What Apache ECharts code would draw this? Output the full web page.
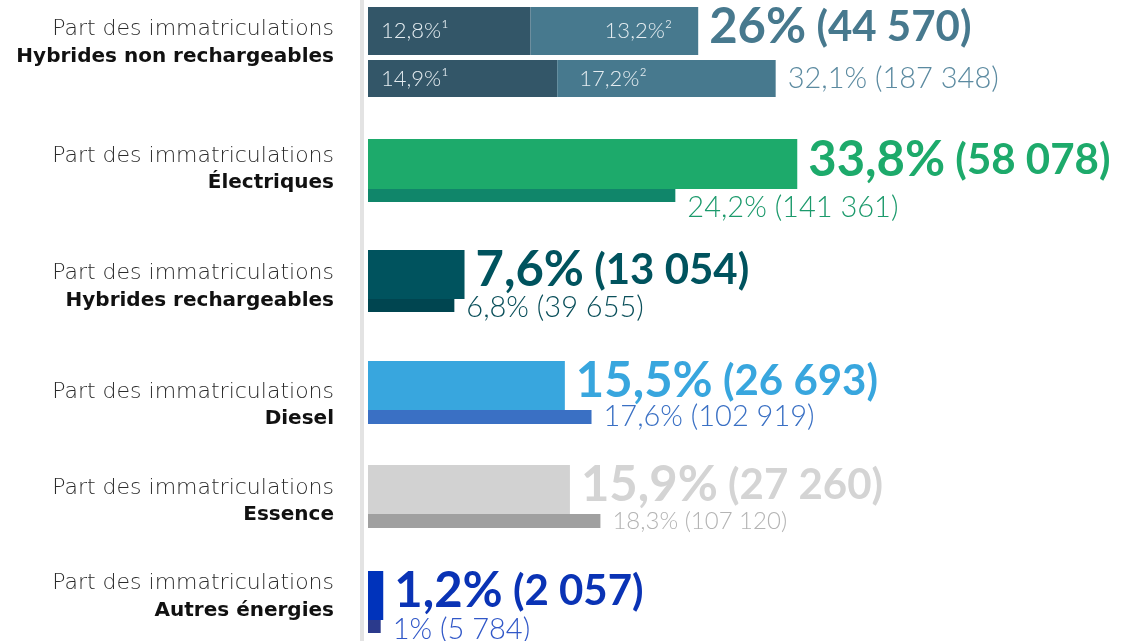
<!DOCTYPE html>
<html>
<head>
<meta charset="utf-8">
<script src="https://cdn.jsdelivr.net/npm/echarts@6/dist/echarts.min.js"></script>
<style>
  html, body { margin: 0; padding: 0; background: #fff; }
  #chart { width: 1122px; height: 641px; }
</style>
</head>
<body>
<div id="chart"></div>
<script>
var categories = ['Hybrides non rechargeables', 'Électriques', 'Hybrides rechargeables', 'Diesel', 'Essence', 'Autres énergies'];
// part du mois (%) et nombre d'immatriculations
var monthShare = [26, 33.8, 7.6, 15.5, 15.9, 1.2];
var monthCount = ['44 570', '58 078', '13 054', '26 693', '27 260', '2 057'];
// cumul depuis le début de l'année
var yearShare = [32.1, 24.2, 6.8, 17.6, 18.3, 1];
var yearCount = ['187 348', '141 361', '39 655', '102 919', '107 120', '5 784'];
// hybrides non rechargeables : détail 1 / 2
var hnrMonthParts = [12.8, 13.2];
var hnrYearParts = [14.9, 17.2];
var partMarks = ['¹', '²'];

// mise en page des lignes (positions en px)
var rows = [
  { top: 7, main: 48, sub: 37, gap: 5, subFont: 29, subDy: 0, labelDy: -9 },
  { top: 139, main: 50, sub: 13, gap: 0, subFont: 29, subDy: 12, labelDy: -1 },
  { top: 250, main: 49, sub: 13, gap: 0, subFont: 29, subDy: 2, labelDy: 6 },
  { top: 361, main: 49, sub: 14, gap: 0, subFont: 29, subDy: 0, labelDy: 13 },
  { top: 465, main: 49, sub: 14, gap: 0, subFont: 24, subDy: 0, labelDy: 5 },
  { top: 571, main: 49, sub: 13, gap: 0, subFont: 29, subDy: 3, labelDy: -5 }
];
var mainColors = ['#47798e', '#1daa6b', '#00535e', '#38a6de', '#d2d2d2', '#0033bb'];
var subColors = ['#47798e', '#10866a', '#004550', '#3a70c4', '#a0a0a0', '#2b3a8c'];
var mainTextColors = ['#47798e', '#1daa6b', '#00535e', '#38a6de', '#d4d4d4', '#0a33b5'];
var subTextColors = ['#5b8aa0', '#1c9a6c', '#0a4f5a', '#3a70c4', '#b4b4b4', '#3158c8'];
var hnrDark = '#335668';

var FONT = 'Lato';
var SIDE_FONT = 'DejaVu Sans';

function pct(v) {
  return String(v).replace('.', ',') + '%';
}

var chart = echarts.init(document.getElementById('chart'));

var grids = [], xAxes = [], yAxes = [], series = [];

rows.forEach(function (r, i) {
  grids.push({ left: 368, width: 635, top: r.top, height: r.main + r.gap + r.sub });
  xAxes.push({ type: 'value', gridIndex: i, min: 0, max: 50, show: false });
  var pad = r.labelDy > 0 ? [2 * r.labelDy, 0, 0, 0] : [0, 0, -2 * r.labelDy, 0];
  yAxes.push({
    type: 'category',
    gridIndex: i,
    data: [categories[i]],
    axisLine: { show: false },
    axisTick: { show: false },
    splitLine: { show: false },
    axisLabel: {
      margin: 34,
      align: 'right',
      padding: pad,
      formatter: function (v) {
        return '{a|Part des immatriculations}\n{b|' + v + '}';
      },
      rich: {
        a: { fontFamily: SIDE_FONT, fontWeight: 200, fontSize: 22, color: '#2b2b2b', lineHeight: 27, align: 'right' },
        b: { fontFamily: SIDE_FONT, fontWeight: 'bold', fontSize: 20, color: '#111', lineHeight: 27, align: 'right' }
      }
    }
  });

  var mainLabel = {
    show: true,
    position: 'right',
    distance: 11,
    offset: [0, -4],
    fontFamily: FONT,
    fontWeight: 'bold',
    fontSize: 42,
    color: mainTextColors[i],
    formatter: '{v|' + pct(monthShare[i]) + '} {n|(' + monthCount[i] + ')}',
    rich: {
      v: { fontFamily: FONT, fontWeight: 'bold', fontSize: 49, color: mainTextColors[i] },
      n: { fontFamily: FONT, fontWeight: 'bold', fontSize: 42, color: mainTextColors[i] }
    }
  };
  var subLabel = {
    show: true,
    position: 'right',
    distance: 12,
    offset: [0, r.subDy],
    fontFamily: FONT,
    fontWeight: 300,
    fontSize: r.subFont,
    color: subTextColors[i],
    formatter: pct(yearShare[i]) + ' (' + yearCount[i] + ')'
  };
  var barGap = (r.gap / r.main * 100).toFixed(1) + '%';

  if (i === 0) {
    // barres empilées des deux types d'hybrides non rechargeables
    [hnrMonthParts, hnrYearParts].forEach(function (parts, k) {
      var stack = (k === 0 ? 'm' : 'y') + i;
      var w = k === 0 ? r.main : r.sub;
      parts.forEach(function (p, j) {
        var inner = { show: true, fontFamily: FONT, fontWeight: 300, fontSize: 22, color: '#e4ecf0',
          formatter: pct(p) + partMarks[j] };
        if (j === 0) {
          inner.position = 'insideLeft'; inner.distance = 13;
        } else if (k === 0) {
          inner.position = 'insideRight'; inner.distance = 26;
        } else {
          inner.position = 'insideLeft'; inner.distance = 22;
        }
        series.push({
          type: 'bar', xAxisIndex: i, yAxisIndex: i, stack: stack, barWidth: w, barGap: barGap,
          silent: true, itemStyle: { color: j === 0 ? hnrDark : mainColors[0] },
          label: inner, data: [p]
        });
      });
      // barre nulle en bout de pile pour porter le total
      series.push({
        type: 'bar', xAxisIndex: i, yAxisIndex: i, stack: stack, barWidth: w, barGap: barGap,
        silent: true, itemStyle: { color: 'rgba(0,0,0,0)' },
        label: k === 0 ? mainLabel : subLabel, data: [0]
      });
    });
  } else {
    series.push({
      type: 'bar', xAxisIndex: i, yAxisIndex: i, stack: 'm' + i, barWidth: r.main, barGap: barGap,
      silent: true, itemStyle: { color: mainColors[i] }, label: mainLabel, data: [monthShare[i]]
    });
    series.push({
      type: 'bar', xAxisIndex: i, yAxisIndex: i, stack: 'y' + i, barWidth: r.sub, barGap: barGap,
      silent: true, itemStyle: { color: subColors[i] }, label: subLabel, data: [yearShare[i]]
    });
  }
});

chart.setOption({
  animation: false,
  backgroundColor: '#fff',
  grid: grids,
  xAxis: xAxes,
  yAxis: yAxes,
  graphic: [{
    type: 'rect', left: 360, top: 0, z: -1,
    shape: { width: 4, height: 641 },
    style: { fill: '#e3e3e3' }
  }],
  series: series
});
</script>
</body>
</html>
